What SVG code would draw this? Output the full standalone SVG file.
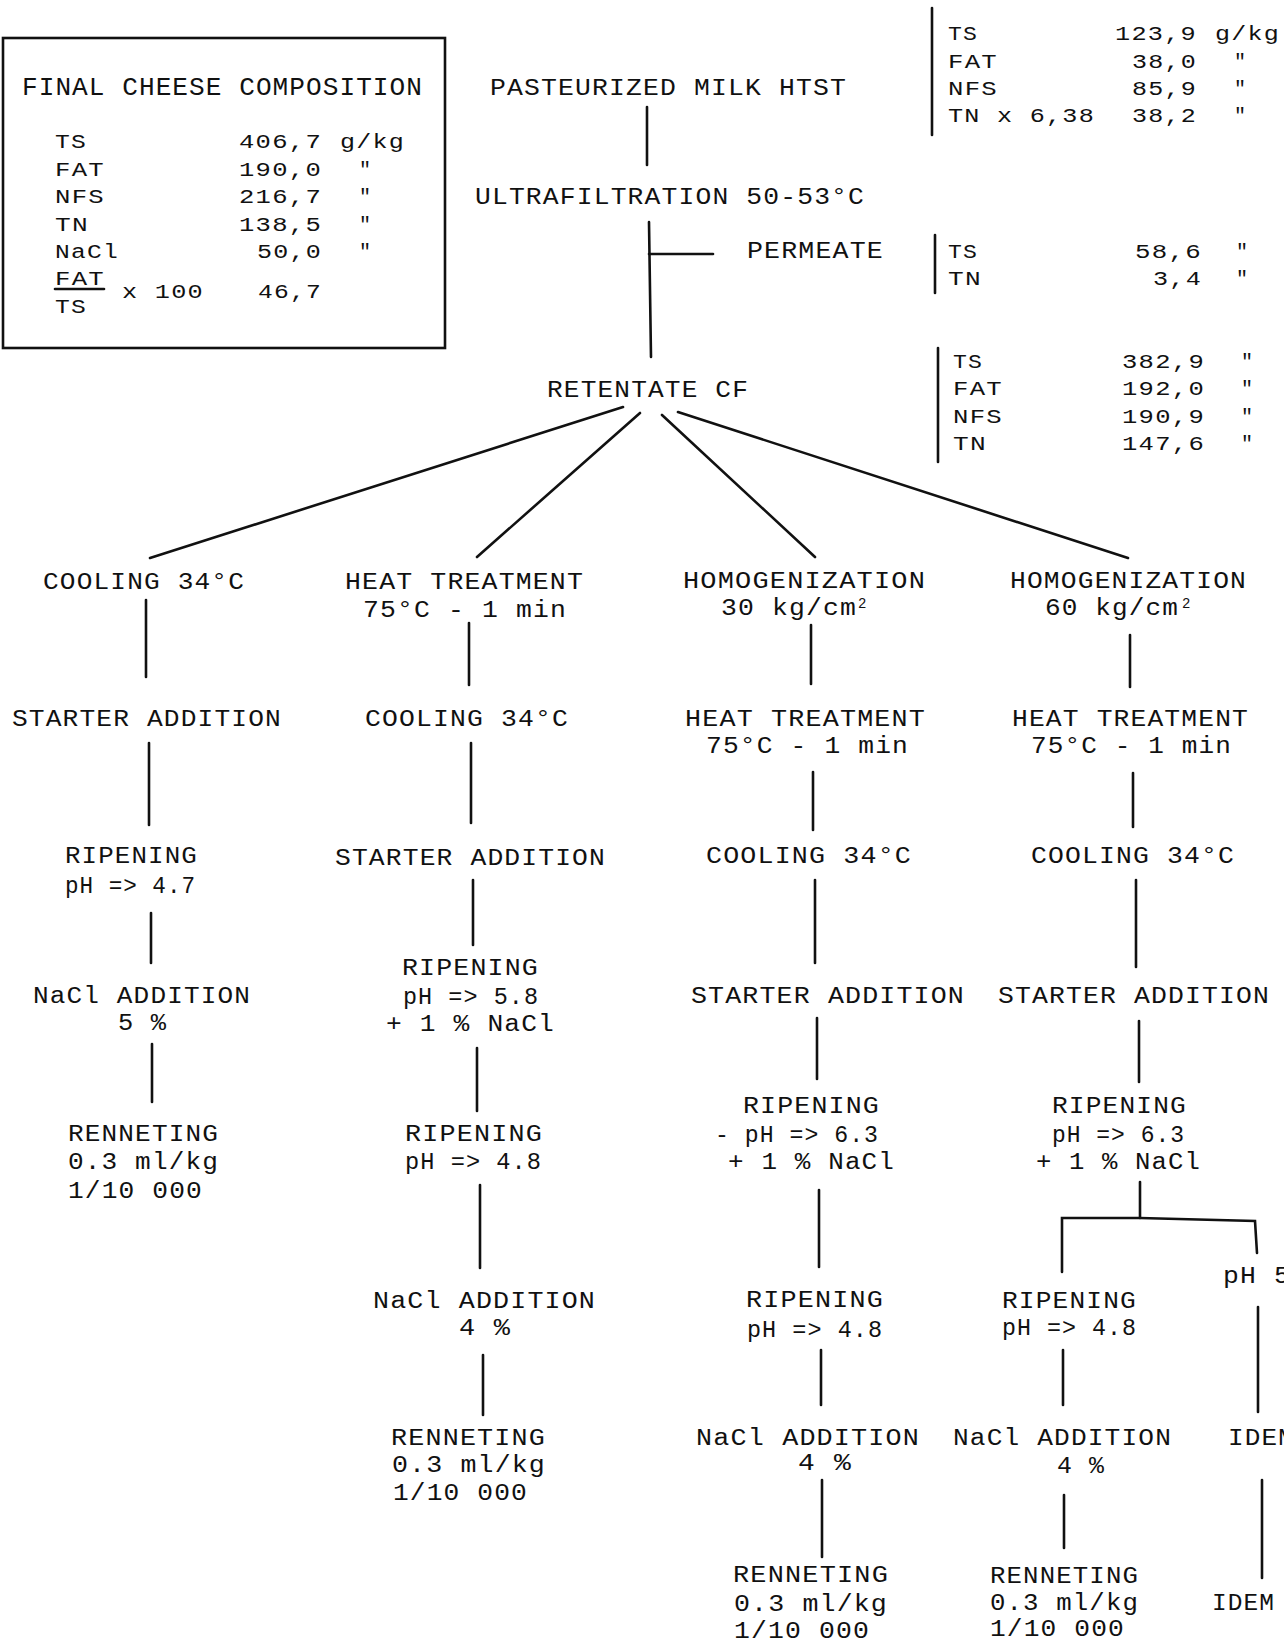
<svg xmlns="http://www.w3.org/2000/svg" width="1284" height="1646" viewBox="0 0 1284 1646">
<style>
text { font-family: "Liberation Mono", "DejaVu Sans Mono", monospace; font-size: 23px; fill: #111; letter-spacing: 1px; }
.s { font-size: 20px; }
.ttl { font-size: 25px; }
.sup { font-size: 14px; letter-spacing: 0; }
.ln { stroke: #111; stroke-width: 2.6; stroke-linecap: round; fill: none; }
</style>
<rect width="1284" height="1646" fill="#fff"/>

<g id="composition-box">
  <rect class="ln" x="3" y="38" width="442" height="310"/>
  <text class="ttl" x="22" y="95" textLength="401" lengthAdjust="spacingAndGlyphs">FINAL CHEESE COMPOSITION</text>
  <text class="s" x="55" y="148" textLength="32" lengthAdjust="spacingAndGlyphs">TS</text>
  <text class="s" x="239" y="148" textLength="83" lengthAdjust="spacingAndGlyphs">406,7</text>
  <text class="s" x="340" y="148" textLength="65" lengthAdjust="spacingAndGlyphs">g/kg</text>
  <text class="s" x="55" y="176" textLength="50" lengthAdjust="spacingAndGlyphs">FAT</text>
  <text class="s" x="239" y="176" textLength="83" lengthAdjust="spacingAndGlyphs">190,0</text>
  <text class="s" x="359" y="176">"</text>
  <text class="s" x="55" y="203" textLength="50" lengthAdjust="spacingAndGlyphs">NFS</text>
  <text class="s" x="239" y="203" textLength="83" lengthAdjust="spacingAndGlyphs">216,7</text>
  <text class="s" x="359" y="203">"</text>
  <text class="s" x="55" y="231" textLength="34" lengthAdjust="spacingAndGlyphs">TN</text>
  <text class="s" x="239" y="231" textLength="83" lengthAdjust="spacingAndGlyphs">138,5</text>
  <text class="s" x="359" y="231">"</text>
  <text class="s" x="55" y="258" textLength="64" lengthAdjust="spacingAndGlyphs">NaCl</text>
  <text class="s" x="257" y="258" textLength="65" lengthAdjust="spacingAndGlyphs">50,0</text>
  <text class="s" x="359" y="258">"</text>
  <text class="s" x="55" y="285" textLength="50" lengthAdjust="spacingAndGlyphs">FAT</text>
  <line class="ln" x1="55" y1="289" x2="104" y2="289" stroke-width="2"/>
  <text class="s" x="55" y="313" textLength="32" lengthAdjust="spacingAndGlyphs">TS</text>
  <text class="s" x="122" y="298" textLength="82" lengthAdjust="spacingAndGlyphs">x 100</text>
  <text class="s" x="258" y="298" textLength="64" lengthAdjust="spacingAndGlyphs">46,7</text>
</g>

<g id="n-pasteurized"><text x="490" y="95" textLength="357" lengthAdjust="spacingAndGlyphs">PASTEURIZED MILK HTST</text></g>
<g id="n-ultrafiltration"><text x="475" y="204" textLength="390" lengthAdjust="spacingAndGlyphs">ULTRAFILTRATION 50-53°C</text></g>
<g id="n-permeate"><text x="747" y="258" textLength="137" lengthAdjust="spacingAndGlyphs">PERMEATE</text></g>
<g id="n-retentate"><text x="547" y="397" textLength="202" lengthAdjust="spacingAndGlyphs">RETENTATE CF</text></g>

<g id="t-milk">
  <line class="ln" x1="932" y1="8" x2="932" y2="135"/>
  <text class="s" x="948" y="40" textLength="30" lengthAdjust="spacingAndGlyphs">TS</text>
  <text class="s" x="1115" y="40" textLength="82" lengthAdjust="spacingAndGlyphs">123,9</text>
  <text class="s" x="1215" y="40" textLength="65" lengthAdjust="spacingAndGlyphs">g/kg</text>
  <text class="s" x="948" y="68" textLength="50" lengthAdjust="spacingAndGlyphs">FAT</text>
  <text class="s" x="1132" y="68" textLength="65" lengthAdjust="spacingAndGlyphs">38,0</text>
  <text class="s" x="1234" y="68">"</text>
  <text class="s" x="948" y="95" textLength="50" lengthAdjust="spacingAndGlyphs">NFS</text>
  <text class="s" x="1132" y="95" textLength="65" lengthAdjust="spacingAndGlyphs">85,9</text>
  <text class="s" x="1234" y="95">"</text>
  <text class="s" x="948" y="122" textLength="147" lengthAdjust="spacingAndGlyphs">TN x 6,38</text>
  <text class="s" x="1132" y="122" textLength="65" lengthAdjust="spacingAndGlyphs">38,2</text>
  <text class="s" x="1234" y="122">"</text>
</g>

<g id="t-permeate">
  <line class="ln" x1="935" y1="235" x2="935" y2="293"/>
  <text class="s" x="948" y="258" textLength="30" lengthAdjust="spacingAndGlyphs">TS</text>
  <text class="s" x="1135" y="258" textLength="67" lengthAdjust="spacingAndGlyphs">58,6</text>
  <text class="s" x="1236" y="258">"</text>
  <text class="s" x="948" y="285" textLength="34" lengthAdjust="spacingAndGlyphs">TN</text>
  <text class="s" x="1153" y="285" textLength="49" lengthAdjust="spacingAndGlyphs">3,4</text>
  <text class="s" x="1236" y="285">"</text>
</g>

<g id="t-retentate">
  <line class="ln" x1="938" y1="348" x2="938" y2="462"/>
  <text class="s" x="953" y="368" textLength="30" lengthAdjust="spacingAndGlyphs">TS</text>
  <text class="s" x="1122" y="368" textLength="83" lengthAdjust="spacingAndGlyphs">382,9</text>
  <text class="s" x="1241" y="368">"</text>
  <text class="s" x="953" y="395" textLength="50" lengthAdjust="spacingAndGlyphs">FAT</text>
  <text class="s" x="1122" y="395" textLength="83" lengthAdjust="spacingAndGlyphs">192,0</text>
  <text class="s" x="1241" y="395">"</text>
  <text class="s" x="953" y="423" textLength="50" lengthAdjust="spacingAndGlyphs">NFS</text>
  <text class="s" x="1122" y="423" textLength="83" lengthAdjust="spacingAndGlyphs">190,9</text>
  <text class="s" x="1241" y="423">"</text>
  <text class="s" x="953" y="450" textLength="34" lengthAdjust="spacingAndGlyphs">TN</text>
  <text class="s" x="1122" y="450" textLength="83" lengthAdjust="spacingAndGlyphs">147,6</text>
  <text class="s" x="1241" y="450">"</text>
</g>

<!-- Column 1 -->
<g id="c1-cooling"><text x="43" y="589" textLength="202" lengthAdjust="spacingAndGlyphs">COOLING 34°C</text></g>
<g id="c1-starter"><text x="12" y="726" textLength="270" lengthAdjust="spacingAndGlyphs">STARTER ADDITION</text></g>
<g id="c1-ripening"><text x="65" y="863" textLength="133" lengthAdjust="spacingAndGlyphs">RIPENING</text><text x="65" y="893" textLength="131" lengthAdjust="spacingAndGlyphs">pH =&gt; 4.7</text></g>
<g id="c1-nacl"><text x="33" y="1003" textLength="218" lengthAdjust="spacingAndGlyphs">NaCl ADDITION</text><text x="118" y="1030" textLength="49" lengthAdjust="spacingAndGlyphs">5 %</text></g>
<g id="c1-renneting"><text x="68" y="1141" textLength="151" lengthAdjust="spacingAndGlyphs">RENNETING</text><text x="68" y="1169" textLength="151" lengthAdjust="spacingAndGlyphs">0.3 ml/kg</text><text x="68" y="1198" textLength="135" lengthAdjust="spacingAndGlyphs">1/10 000</text></g>

<!-- Column 2 -->
<g id="c2-heat"><text x="345" y="589" textLength="239" lengthAdjust="spacingAndGlyphs">HEAT TREATMENT</text><text x="363" y="617" textLength="204" lengthAdjust="spacingAndGlyphs">75°C - 1 min</text></g>
<g id="c2-cooling"><text x="365" y="726" textLength="204" lengthAdjust="spacingAndGlyphs">COOLING 34°C</text></g>
<g id="c2-starter"><text x="335" y="865" textLength="271" lengthAdjust="spacingAndGlyphs">STARTER ADDITION</text></g>
<g id="c2-ripening1"><text x="402" y="975" textLength="137" lengthAdjust="spacingAndGlyphs">RIPENING</text><text x="403" y="1004" textLength="136" lengthAdjust="spacingAndGlyphs">pH =&gt; 5.8</text><text x="386" y="1031" textLength="169" lengthAdjust="spacingAndGlyphs">+ 1 % NaCl</text></g>
<g id="c2-ripening2"><text x="405" y="1141" textLength="138" lengthAdjust="spacingAndGlyphs">RIPENING</text><text x="405" y="1169" textLength="137" lengthAdjust="spacingAndGlyphs">pH =&gt; 4.8</text></g>
<g id="c2-nacl"><text x="373" y="1308" textLength="223" lengthAdjust="spacingAndGlyphs">NaCl ADDITION</text><text x="459" y="1335" textLength="52" lengthAdjust="spacingAndGlyphs">4 %</text></g>
<g id="c2-renneting"><text x="391" y="1445" textLength="155" lengthAdjust="spacingAndGlyphs">RENNETING</text><text x="392" y="1472" textLength="154" lengthAdjust="spacingAndGlyphs">0.3 ml/kg</text><text x="393" y="1500" textLength="135" lengthAdjust="spacingAndGlyphs">1/10 000</text></g>

<!-- Column 3 -->
<g id="c3-homog"><text x="683" y="588" textLength="243" lengthAdjust="spacingAndGlyphs">HOMOGENIZATION</text><text x="721" y="615" textLength="136" lengthAdjust="spacingAndGlyphs">30 kg/cm</text><text class="sup" x="858" y="608">2</text></g>
<g id="c3-heat"><text x="685" y="726" textLength="241" lengthAdjust="spacingAndGlyphs">HEAT TREATMENT</text><text x="706" y="753" textLength="203" lengthAdjust="spacingAndGlyphs">75°C - 1 min</text></g>
<g id="c3-cooling"><text x="706" y="863" textLength="206" lengthAdjust="spacingAndGlyphs">COOLING 34°C</text></g>
<g id="c3-starter"><text x="691" y="1003" textLength="274" lengthAdjust="spacingAndGlyphs">STARTER ADDITION</text></g>
<g id="c3-ripening1"><text x="743" y="1113" textLength="137" lengthAdjust="spacingAndGlyphs">RIPENING</text><text x="715" y="1142" textLength="164" lengthAdjust="spacingAndGlyphs">- pH =&gt; 6.3</text><text x="728" y="1169" textLength="167" lengthAdjust="spacingAndGlyphs">+ 1 % NaCl</text></g>
<g id="c3-ripening2"><text x="746" y="1307" textLength="138" lengthAdjust="spacingAndGlyphs">RIPENING</text><text x="747" y="1337" textLength="136" lengthAdjust="spacingAndGlyphs">pH =&gt; 4.8</text></g>
<g id="c3-nacl"><text x="696" y="1445" textLength="224" lengthAdjust="spacingAndGlyphs">NaCl ADDITION</text><text x="798" y="1470" textLength="54" lengthAdjust="spacingAndGlyphs">4 %</text></g>
<g id="c3-renneting"><text x="733" y="1582" textLength="156" lengthAdjust="spacingAndGlyphs">RENNETING</text><text x="734" y="1611" textLength="154" lengthAdjust="spacingAndGlyphs">0.3 ml/kg</text><text x="734" y="1638" textLength="136" lengthAdjust="spacingAndGlyphs">1/10 000</text></g>

<!-- Column 4 -->
<g id="c4-homog"><text x="1010" y="588" textLength="237" lengthAdjust="spacingAndGlyphs">HOMOGENIZATION</text><text x="1045" y="615" textLength="134" lengthAdjust="spacingAndGlyphs">60 kg/cm</text><text class="sup" x="1182" y="608">2</text></g>
<g id="c4-heat"><text x="1012" y="726" textLength="237" lengthAdjust="spacingAndGlyphs">HEAT TREATMENT</text><text x="1031" y="753" textLength="201" lengthAdjust="spacingAndGlyphs">75°C - 1 min</text></g>
<g id="c4-cooling"><text x="1031" y="863" textLength="204" lengthAdjust="spacingAndGlyphs">COOLING 34°C</text></g>
<g id="c4-starter"><text x="998" y="1003" textLength="272" lengthAdjust="spacingAndGlyphs">STARTER ADDITION</text></g>
<g id="c4-ripening1"><text x="1052" y="1113" textLength="135" lengthAdjust="spacingAndGlyphs">RIPENING</text><text x="1052" y="1142" textLength="133" lengthAdjust="spacingAndGlyphs">pH =&gt; 6.3</text><text x="1036" y="1169" textLength="165" lengthAdjust="spacingAndGlyphs">+ 1 % NaCl</text></g>
<g id="c4-ripening2"><text x="1002" y="1308" textLength="135" lengthAdjust="spacingAndGlyphs">RIPENING</text><text x="1002" y="1335" textLength="135" lengthAdjust="spacingAndGlyphs">pH =&gt; 4.8</text></g>
<g id="c4-nacl"><text x="953" y="1445" textLength="219" lengthAdjust="spacingAndGlyphs">NaCl ADDITION</text><text x="1057" y="1473" textLength="48" lengthAdjust="spacingAndGlyphs">4 %</text></g>
<g id="c4-renneting"><text x="990" y="1583" textLength="149" lengthAdjust="spacingAndGlyphs">RENNETING</text><text x="990" y="1610" textLength="149" lengthAdjust="spacingAndGlyphs">0.3 ml/kg</text><text x="990" y="1636" textLength="135" lengthAdjust="spacingAndGlyphs">1/10 000</text></g>
<g id="c4b-ph"><text x="1223" y="1283" textLength="68" lengthAdjust="spacingAndGlyphs">pH 5</text></g>
<g id="c4b-idem1"><text x="1228" y="1445" textLength="67" lengthAdjust="spacingAndGlyphs">IDEM</text></g>
<g id="c4b-idem2"><text x="1212" y="1610" textLength="63" lengthAdjust="spacingAndGlyphs">IDEM</text></g>

<g id="connectors" class="ln">
  <line x1="647" y1="107" x2="647" y2="165"/>
  <line x1="649" y1="222" x2="651" y2="357"/>
  <line x1="649" y1="254" x2="713" y2="254"/>
  <line x1="623" y1="407" x2="150" y2="558"/>
  <line x1="640" y1="413" x2="477" y2="557"/>
  <line x1="662" y1="415" x2="815" y2="557"/>
  <line x1="678" y1="412" x2="1128" y2="558"/>

  <line x1="146" y1="600" x2="146" y2="677"/>
  <line x1="149" y1="743" x2="149" y2="825"/>
  <line x1="151" y1="913" x2="151" y2="963"/>
  <line x1="152" y1="1044" x2="152" y2="1102"/>

  <line x1="469" y1="623" x2="469" y2="685"/>
  <line x1="471" y1="743" x2="471" y2="823"/>
  <line x1="473" y1="880" x2="473" y2="945"/>
  <line x1="477" y1="1048" x2="477" y2="1111"/>
  <line x1="480" y1="1185" x2="480" y2="1268"/>
  <line x1="483" y1="1355" x2="483" y2="1415"/>

  <line x1="811" y1="625" x2="811" y2="684"/>
  <line x1="813" y1="772" x2="813" y2="830"/>
  <line x1="815" y1="880" x2="815" y2="963"/>
  <line x1="817" y1="1018" x2="817" y2="1079"/>
  <line x1="819" y1="1190" x2="819" y2="1267"/>
  <line x1="821" y1="1350" x2="821" y2="1405"/>
  <line x1="822" y1="1480" x2="822" y2="1557"/>

  <line x1="1130" y1="635" x2="1130" y2="687"/>
  <line x1="1133" y1="773" x2="1133" y2="827"/>
  <line x1="1136" y1="880" x2="1136" y2="967"/>
  <line x1="1139" y1="1021" x2="1139" y2="1082"/>
  <line x1="1140" y1="1182" x2="1140" y2="1218"/>
  <polyline points="1062,1272 1062,1218 1140,1218 1255,1221 1257,1253"/>
  <line x1="1063" y1="1350" x2="1063" y2="1405"/>
  <line x1="1064" y1="1495" x2="1064" y2="1548"/>
  <line x1="1258" y1="1307" x2="1258" y2="1412"/>
  <line x1="1262" y1="1480" x2="1262" y2="1578"/>
</g>
</svg>
